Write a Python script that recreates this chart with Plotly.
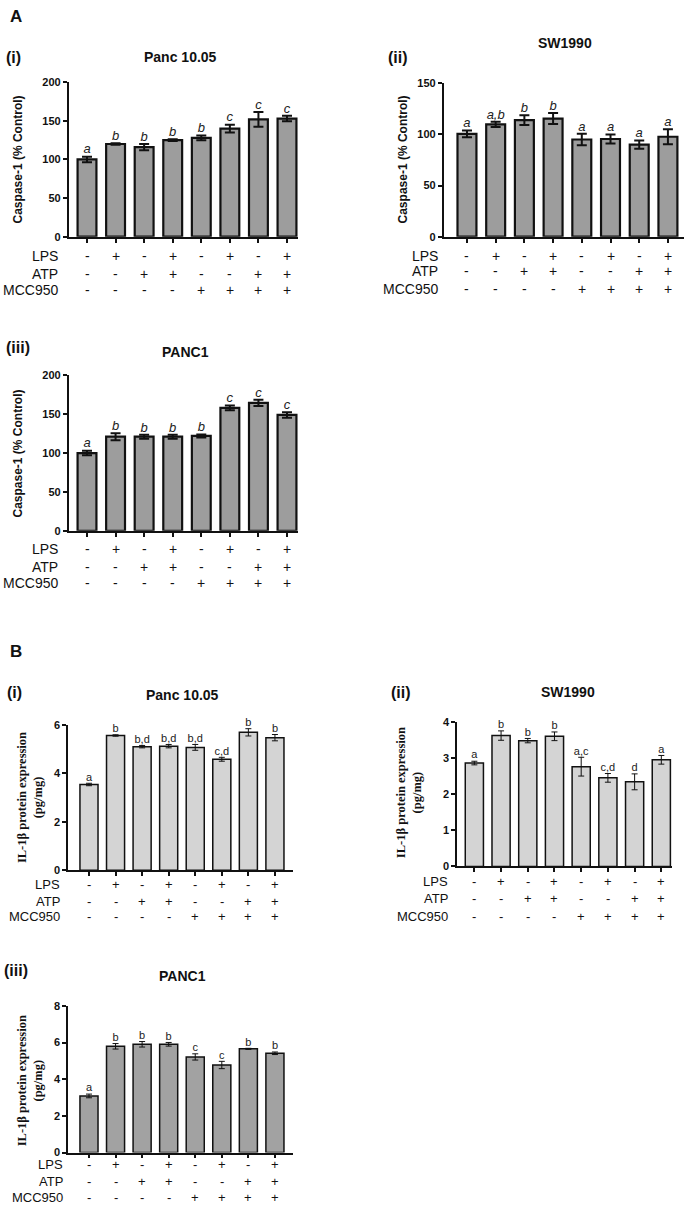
import plotly.graph_objects as go

W, H = 685, 1213

# ---------------- data ----------------
groups = ["Control", "LPS", "ATP", "LPS+ATP", "MCC950", "LPS+MCC950", "ATP+MCC950", "LPS+ATP+MCC950"]
LPS = ["-", "+", "-", "+", "-", "+", "-", "+"]
ATP = ["-", "-", "+", "+", "-", "-", "+", "+"]
MCC950 = ["-", "-", "-", "-", "+", "+", "+", "+"]

a1_vals = [100, 120, 116, 125, 128, 140, 152, 153]
a1_err = [3.6, 1.0, 4.0, 1.2, 3.0, 5.0, 9.5, 3.6]
a1_let = ["a", "b", "b", "b", "b", "c", "c", "c"]

a2_vals = [100.5, 109.7, 113.9, 115.5, 95, 95.5, 90, 97.7]
a2_err = [3.2, 2.6, 4.8, 5.3, 5.6, 4.4, 4.0, 7.4]
a2_let = ["a", "a,b", "b", "b", "a", "a", "a", "a"]

a3_vals = [100, 121, 121, 121, 122, 158, 164.5, 149]
a3_err = [3.0, 4.5, 2.5, 2.5, 2.0, 3.0, 4.0, 3.6]
a3_let = ["a", "b", "b", "b", "b", "c", "c", "c"]

b1_vals = [3.54, 5.56, 5.10, 5.12, 5.07, 4.58, 5.69, 5.47]
b1_err = [0.05, 0.03, 0.05, 0.07, 0.12, 0.08, 0.15, 0.13]
b1_let = ["a", "b", "b,d", "b,d", "b,d", "c,d", "b", "b"]

b2_vals = [2.86, 3.62, 3.48, 3.60, 2.76, 2.45, 2.34, 2.95]
b2_err = [0.05, 0.13, 0.06, 0.12, 0.26, 0.12, 0.22, 0.12]
b2_let = ["a", "b", "b", "b", "a,c", "c,d", "d", "a"]

b3_vals = [3.09, 5.80, 5.91, 5.91, 5.22, 4.78, 5.66, 5.42]
b3_err = [0.10, 0.15, 0.15, 0.10, 0.17, 0.20, 0.03, 0.07]
b3_let = ["a", "b", "b", "b", "c", "c", "b", "b"]

SANS = "Liberation Sans, Arial, sans-serif"
SERIF = "Liberation Serif, Times New Roman, serif"

fig = go.Figure()
annotations = []


def fx(p):
    return p / W


def fy(p):
    return 1 - p / H


def panel(idx, vals, errs, lets, box, xr, yr, tickvals, style, rows, row_right,
          ytitle, ytitle_pos, title, title_pos, roman, roman_pos):
    # box = (left, right, top, bottom) pixels
    xa = "x" if idx == 1 else f"x{idx}"
    ya = "y" if idx == 1 else f"y{idx}"
    A = style == "A"
    fill = {"A": "#9d9d9d", "Bl": "#d4d4d4", "Bd": "#a2a2a2"}[style]
    lw = 2.2 if A else 1.5
    fig.add_trace(go.Bar(
        x=groups, y=vals, xaxis=xa, yaxis=ya,
        width=0.66 if A else 0.68,
        marker=dict(color=fill, line=dict(color="#111111", width=lw)),
        error_y=dict(type="data", array=errs, visible=True, color="#111111",
                     thickness=2 if A else 1, width=5 if A else 3),
        showlegend=False, hoverinfo="skip"))
    tops = [v + e for v, e in zip(vals, errs)]
    fig.add_trace(go.Scatter(
        x=groups, y=tops, xaxis=xa, yaxis=ya, mode="text",
        text=[f"<i>{t}</i>" if A else t for t in lets],
        textposition="top center",
        textfont=dict(family=SANS, size=13 if A else 11, color="#222222"),
        cliponaxis=False, showlegend=False, hoverinfo="skip"))
    l, r, t, b = box
    axkey = "xaxis" if idx == 1 else f"xaxis{idx}"
    aykey = "yaxis" if idx == 1 else f"yaxis{idx}"
    fig.layout[axkey] = dict(
        domain=[fx(l), fx(r)], anchor=ya, range=xr, showgrid=False,
        showline=True, linecolor="#111111", linewidth=lw,
        ticks="outside", ticklen=4, tickwidth=lw, tickcolor="#111111",
        showticklabels=False, zeroline=False, fixedrange=True)
    fig.layout[aykey] = dict(
        domain=[fy(b), fy(t)], anchor=xa, range=yr, showgrid=False,
        showline=True, linecolor="#111111", linewidth=lw,
        ticks="outside", ticklen=4, tickwidth=lw, tickcolor="#111111",
        tickvals=tickvals, ticktext=[f"<b>{v}</b>" for v in tickvals],
        tickfont=dict(family=SANS, size=11, color="#111111"),
        zeroline=False, fixedrange=True)
    # condition rows
    for (name, signs), ry in zip([("LPS", LPS), ("ATP", ATP), ("MCC950", MCC950)], rows):
        annotations.append(dict(xref="paper", yref="paper", x=fx(row_right), y=fy(ry),
                                text=name, showarrow=False, xanchor="right", yanchor="middle",
                                font=dict(family=SANS, size=14 if A else 13, color="#111111")))
        for g, s in zip(groups, signs):
            annotations.append(dict(xref=xa, yref="paper", x=g, y=fy(ry), text=s,
                                    showarrow=False, xanchor="center", yanchor="middle",
                                    font=dict(family=SANS, size=14 if A else 13, color="#111111")))
    # y title
    annotations.append(dict(xref="paper", yref="paper", x=fx(ytitle_pos[0]), y=fy(ytitle_pos[1]),
                            text=ytitle, showarrow=False, textangle=-90,
                            xanchor="center", yanchor="middle",
                            font=dict(family=SANS if A else SERIF, size=12 if A else 12.5,
                                      color="#111111")))
    annotations.append(dict(xref="paper", yref="paper", x=fx(title_pos[0]), y=fy(title_pos[1]),
                            text=f"<b>{title}</b>", showarrow=False, xanchor="center",
                            yanchor="middle", font=dict(family=SANS, size=14, color="#111111")))
    annotations.append(dict(xref="paper", yref="paper", x=fx(roman_pos[0]), y=fy(roman_pos[1]),
                            text=f"<b>{roman}</b>", showarrow=False, xanchor="left",
                            yanchor="middle", font=dict(family=SANS, size=16, color="#111111")))


capA = "<b>Caspase-1 (% Control)</b>"
ilB = "<b>IL-1β protein expression<br>(pg/mg)</b>"

panel(1, a1_vals, a1_err, a1_let, (69, 298, 77, 233), [-0.63, 7.385], [0, 200],
      [0, 50, 100, 150, 200], "A", [252, 271, 287], 60,
      capA, (18, 155), "Panc 10.05", (180, 52), "(i)", (4, 52))
panel(2, a2_vals, a2_err, a2_let, (444, 684, 78, 233), [-0.8, 7.56], [0, 150],
      [0, 50, 100, 150], "A", [252, 268, 286], 440,
      capA, (403, 155), "SW1990", (565, 37), "(ii)", (386, 52))
panel(3, a3_vals, a3_err, a3_let, (69, 298, 373, 530), [-0.63, 7.385], [0, 200],
      [0, 50, 100, 150, 200], "A", [548, 567, 583], 60,
      capA, (18, 452), "PANC1", (185, 349), "(iii)", (4, 345))
panel(4, b1_vals, b1_err, b1_let, (68, 293, 726, 873), [-0.79, 7.68], [0, 6],
      [0, 2, 4, 6], "Bl", [887, 904, 920], 62,
      ilB, (30, 800), "Panc 10.05", (182, 696), "(i)", (5, 693))
panel(5, b2_vals, b2_err, b2_let, (457, 672, 723, 869), [-0.65, 7.4], [0, 4],
      [0, 1, 2, 3, 4], "Bl", [884, 901, 920], 450,
      ilB, (409, 795), "SW1990", (568, 693), "(ii)", (389, 693))
panel(6, b3_vals, b3_err, b3_let, (68, 293, 1010, 1158), [-0.79, 7.68], [0, 8],
      [0, 2, 4, 6, 8], "Bd", [1170, 1187, 1203], 65,
      ilB, (30, 1086), "PANC1", (182, 980), "(iii)", (2, 974))

annotations.append(dict(xref="paper", yref="paper", x=fx(8), y=fy(11), text="<b>A</b>",
                        showarrow=False, xanchor="left", yanchor="middle",
                        font=dict(family=SANS, size=17, color="#111111")))
annotations.append(dict(xref="paper", yref="paper", x=fx(8), y=fy(652), text="<b>B</b>",
                        showarrow=False, xanchor="left", yanchor="middle",
                        font=dict(family=SANS, size=17, color="#111111")))

fig.update_layout(width=W, height=H, margin=dict(l=0, r=0, t=0, b=0),
                  paper_bgcolor="white", plot_bgcolor="white",
                  showlegend=False, bargap=0.3, annotations=annotations)

fig.write_html("out.html", config={"displayModeBar": False},
               post_script="document.body.style.margin='0';document.body.style.overflow='hidden';")
